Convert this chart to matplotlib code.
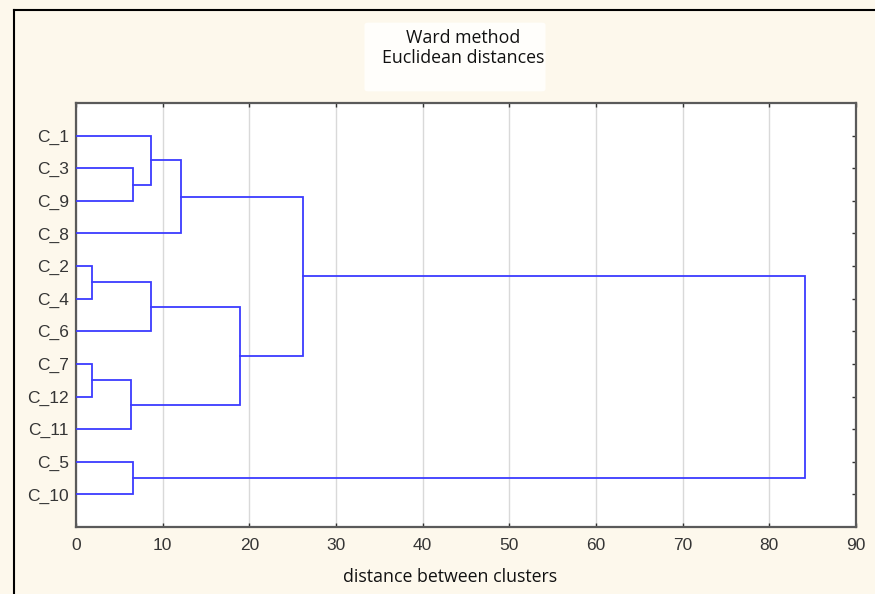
import numpy as np
import matplotlib
matplotlib.use("Agg")
import matplotlib.pyplot as plt
from matplotlib.patches import FancyBboxPatch

############################ datos del dendrograma ############################
leaves = ['C_1', 'C_3', 'C_9', 'C_8', 'C_2', 'C_4', 'C_6',
          'C_7', 'C_12', 'C_11', 'C_5', 'C_10']
# uniones: indices 0..11 son hojas, 12.. son clusters nuevos (como scipy)
merge_a = [1, 0, 13, 4, 15, 7, 17, 16, 14, 10, 20]
merge_b = [2, 12, 3, 5, 6, 8, 9, 18, 19, 11, 21]
merge_h = [6.6, 8.6, 12.1, 1.9, 8.6, 1.9, 6.3, 18.9, 26.2, 6.6, 84.1]

xticks = list(range(0, 100, 10))

bg = '#fdf8ec'
azul = '#3c3cff'
txt = '#353535'

fig = plt.figure(figsize=(8.75, 5.94), dpi=100, facecolor=bg)
ax = fig.add_axes([76/875, 1-527/594, (856-76)/875, (527-103)/594])
ax.set_facecolor('white')

# posiciones de hojas y alturas de los nodos
pos_y = {i: i + 1 for i in range(len(leaves))}
pos_x = {i: 0.0 for i in range(len(leaves))}
n = len(leaves)
for k, (a, b, h) in enumerate(zip(merge_a, merge_b, merge_h)):
    ya, yb = pos_y[a], pos_y[b]
    xa, xb = pos_x[a], pos_x[b]
    ax.plot([xa, h, h, xb], [ya, ya, yb, yb], color=azul, lw=1.3,
            solid_joinstyle='miter', zorder=3)
    pos_y[n + k] = (ya + yb) / 2
    pos_x[n + k] = h

ax.set_xlim(0, 90)
ax.set_ylim(13, 0)
ax.set_xticks(xticks)
ax.set_yticks(range(1, n + 1))
ax.set_yticklabels(leaves)
ax.xaxis.grid(True, color='#d9d9d9', lw=1)
ax.set_axisbelow(True)

ax.tick_params(axis='x', which='both', direction='in', length=3, width=1,
               top=True, bottom=True, color='#333333', labelsize=12.5,
               labelcolor=txt, pad=8)
ax.tick_params(axis='y', which='both', direction='in', length=3, width=1,
               left=False, right=True, color='#333333', labelsize=12.5,
               labelcolor=txt, pad=5)
for lbl in ax.get_xticklabels() + ax.get_yticklabels():
    lbl.set_family('Liberation Sans')

for s in ax.spines.values():
    s.set_color('#5a5a5a')
    s.set_linewidth(1.6)

# mancha blanca detras del titulo
fig.patches.append(FancyBboxPatch((368/875, 1-89/594), 174/875, 64/594,
                                  boxstyle='round,pad=0.004',
                                  transform=fig.transFigure,
                                  facecolor='#fffefb', edgecolor='none'))
fig.text(463/875, 1-38/594, 'Ward method', ha='center', va='center',
         fontsize=12.8, family='Open Sans', color='#111111')
fig.text(463/875, 1-58/594, 'Euclidean distances', ha='center', va='center',
         fontsize=12.8, family='Open Sans', color='#111111')
fig.text(450/875, 1-577/594, 'distance between clusters', ha='center',
         va='center', fontsize=12.8, family='Open Sans', color='#111111')

# borde negro de la ventana (izquierda y arriba)
fig.add_artist(plt.Line2D([14/875, 14/875], [0, 1-10/594],
                          transform=fig.transFigure, color='black', lw=1.5))
fig.add_artist(plt.Line2D([14/875, 1], [1-10/594, 1-10/594],
                          transform=fig.transFigure, color='black', lw=1.5))

fig.savefig('out.png', dpi=100, facecolor=bg)
